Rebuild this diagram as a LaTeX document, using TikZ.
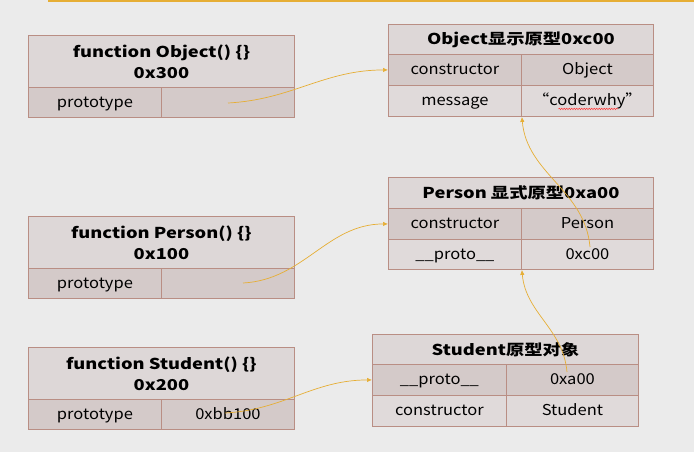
\documentclass[tikz,border=0pt]{standalone}
\usepackage{fontspec}
\setmainfont{Noto Sans CJK SC}[FakeStretch=1.1,BoldFeatures={FakeStretch=1.22}]
\usetikzlibrary{arrows.meta,decorations.pathmorphing}
\definecolor{bg}{HTML}{EBEBEB}
\definecolor{edge}{HTML}{B98E84}
\definecolor{headfill}{HTML}{DDD7D7}
\definecolor{darkfill}{HTML}{D4CAC9}
\definecolor{lightfill}{HTML}{E0DADA}
\definecolor{link}{HTML}{E6AE35}
\begin{document}
\begin{tikzpicture}[x=1pt,y=-1pt,
    box/.style={draw=edge,line width=0.9pt,anchor=north west,inner sep=0pt,align=center,font=\fontsize{15}{17}\selectfont},
    fnhead/.style={box,fill=headfill,minimum width=266pt,minimum height=52pt,font=\fontsize{15}{21}\selectfont\bfseries},
    fncell/.style={box,fill=darkfill,minimum width=133pt,minimum height=30pt,text height=12.5pt,text depth=3pt},
    phead/.style={box,fill=headfill,minimum width=265pt,minimum height=31pt,font=\fontsize{15}{17}\selectfont\bfseries},
    dcell/.style={box,fill=darkfill,minimum width=133pt,minimum height=31pt,text height=12.5pt,text depth=3pt},
    lcell/.style={box,fill=lightfill,minimum width=133pt,minimum height=31pt,text height=12.5pt,text depth=3pt}]
  \useasboundingbox[fill=bg] (0,0) rectangle (694,452);
  \fill[link] (48,0) rectangle (694,2.5);
  % function objects
  \node[fnhead] (objfn) at (28,35) {function Object() \{\}\\0x300};
  \node[fncell] (objfn-k) at (28,87) {prototype};
  \node[fncell] (objfn-v) at (161,87) {};
  \node[fnhead] (perfn) at (28,216) {function Person() \{\}\\0x100};
  \node[fncell] (perfn-k) at (28,268) {prototype};
  \node[fncell] (perfn-v) at (161,268) {};
  \node[fnhead] (stufn) at (28,347) {function Student() \{\}\\0x200};
  \node[fncell] (stufn-k) at (28,399) {prototype};
  \node[fncell] (stufn-v) at (161,399) {0xbb100};
  % prototype objects
  \node[phead] (objp) at (388,24) {Object显示原型0xc00};
  \node[dcell] (objp-ck) at (388,54) {constructor};
  \node[dcell,minimum width=132pt] (objp-cv) at (521,54) {Object};
  \node[lcell] (objp-mk) at (388,85) {message};
  \node[lcell,minimum width=132pt] (objp-mv) at (521,85) {“coderwhy”};
  \node[phead] (perp) at (388,177) {Person 显式原型0xa00};
  \node[dcell] (perp-ck) at (388,208) {constructor};
  \node[dcell,minimum width=132pt] (perp-cv) at (521,208) {Person};
  \node[lcell,minimum height=30pt] (perp-pk) at (388,239) {\_\_proto\_\_};
  \node[lcell,minimum width=132pt,minimum height=30pt] (perp-pv) at (521,239) {0xc00};
  \node[phead,minimum width=266pt,minimum height=30pt] (stup) at (372,334) {Student原型对象};
  \node[dcell,minimum width=134pt] (stup-pk) at (372,364) {\_\_proto\_\_};
  \node[dcell,minimum width=132pt] (stup-pv) at (506,364) {0xa00};
  \node[lcell,minimum width=134pt] (stup-ck) at (372,395) {constructor};
  \node[lcell,minimum width=132pt] (stup-cv) at (506,395) {Student};
  \draw[red!80,line width=0.5pt,decorate,decoration={snake,amplitude=0.7pt,segment length=2.5pt}]
    ([xshift=-29pt,yshift=-8pt]objp-mv.center) -- ([xshift=31pt,yshift=-8pt]objp-mv.center);
  % link start points
  \coordinate (s1) at (228,103);
  \coordinate (s2) at (243,283);
  \coordinate (s3) at (225,413);
  \coordinate (s4) at (567,372);
  \coordinate (s5) at (590,247);
  \begin{scope}[->,>={Latex[length=5pt,width=4.5pt]},draw=link,line width=0.7pt]
    \draw (s1) to[out=3,in=180] (objp-ck.west);
    \draw (s2) to[out=3,in=180] (perp-ck.west);
    \draw (s3) to[out=3,in=180] (stup-pk.west);
    \draw (s4) to[out=95,in=-85] (perp-pk.south east);
    \draw (s5) to[out=95,in=-85] (objp-mk.south east);
  \end{scope}
\end{tikzpicture}
\end{document}
